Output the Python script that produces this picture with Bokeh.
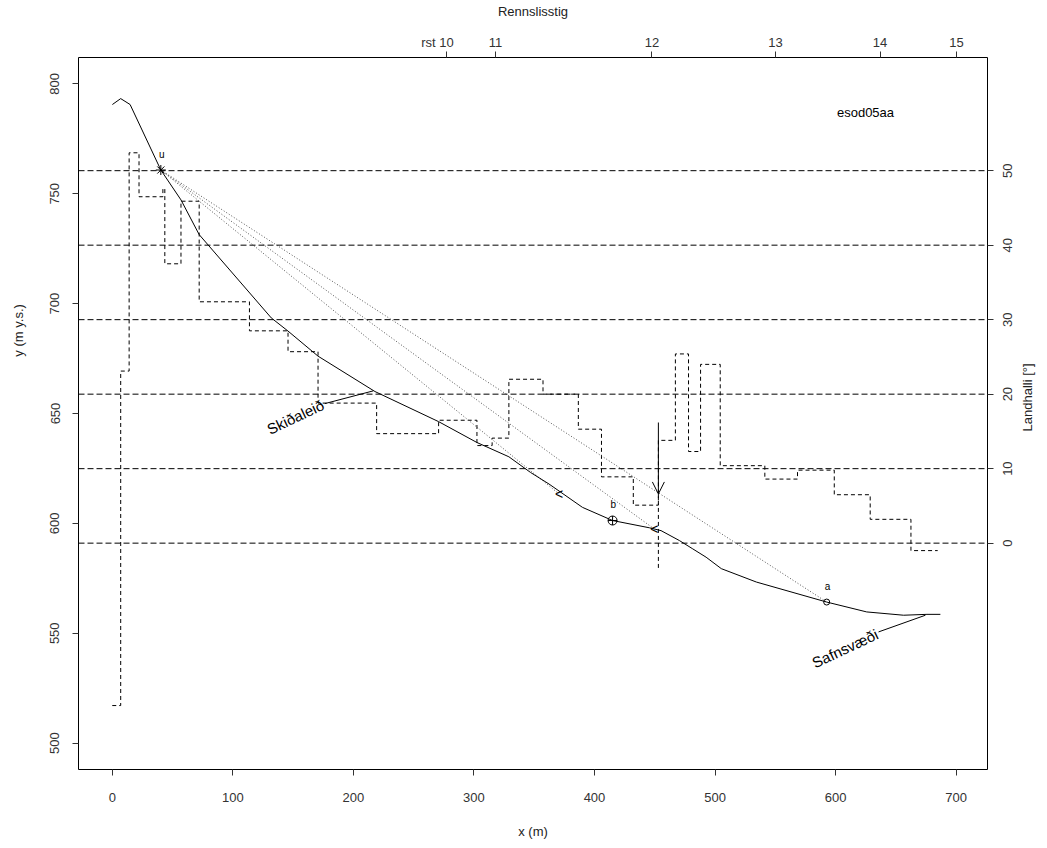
import math
from bokeh.plotting import figure
from bokeh.models import Range1d, LinearAxis, FixedTicker, Span, Arrow, OpenHead
from bokeh.embed import file_html
from bokeh.resources import INLINE
from bokeh.core.properties import value

FONT = "Liberation Sans"
NB = "\u00a0"

# ---- longitudinal profile (x in m, y in m y.s.) ----
prof_x = [0.1, 7.0, 14.8, 40.3, 57.0, 72.1, 131.9, 145.8, 170.7, 217.9, 270.7, 302.5,
          329.0, 346.9, 362.3, 390.0, 415.0, 445.5, 455.2, 470.4, 481.5, 492.6, 505.2,
          534.3, 592.6, 625.8, 656.4, 675.8, 686.9]
prof_y = [790.6, 793.3, 790.6, 760.8, 747.2, 731.4, 693.5, 687.5, 676.1, 660.0, 646.3, 636.8,
          630.3, 623.2, 617.9, 607.3, 601.3, 598.0, 596.7, 592.2, 588.4, 584.6, 579.4,
          573.3, 564.2, 559.7, 558.2, 558.6, 558.6]

# ---- slope (Landhalli, degrees) as steps ----
slope_x = [0, 7.0, 14.0, 22.2, 42.0, 43.6, 57.0, 72.1, 113.8, 145.8, 170.7, 219.3, 270.7,
           302.5, 315.1, 329.0, 357.3, 386.6, 405.8, 432.2, 453.0, 467.1, 478.0, 488.0,
           504.3, 541.3, 568.4, 598.9, 628.7, 662.5, 684.7]
slope_deg = [-21.8, 23.1, 52.4, 46.5, 47.6, 37.5, 45.9, 32.4, 28.5, 25.7, 18.8, 14.7, 16.5,
             13.1, 14.1, 22.0, 20.0, 15.3, 8.9, 5.1, 13.8, 25.4, 12.3, 24.0, 10.4, 8.6,
             9.8, 6.5, 3.2, -1.0]

deg_grid = [0, 10, 20, 30, 40, 50]
slope_title = "Landhalli [°]"
slope_title_from = 15.0   # slope level where the upward-reading right-hand title starts

# ---- Rennslisstig (top axis) ----
rst_x = [277.3, 317.8, 447.7, 550.1, 636.9, 700.2]
rst_labels = ["rst 10" + NB * 5, "11", "12", "13", "14", "15"]

# ---- marked points ----
pt_names = ["u", "b", "a"]
pt_x = [40.3, 415.0, 592.6]
pt_y = [760.8, 601.3, 564.2]
lab_x = [41.1, 415.5, 593.4]
lab_y = [765.4, 606.1, 568.7]

# run-out end points of the dotted lines from u
end_x = [592.6, 449.7, 370.6]
end_y = [564.2, 597.4, 613.4]
chev_x = [370.6, 449.7]
chev_y = [613.4, 597.4]

# arrow at rst 12
arrow_x = 453.0
arrow_top = 645.9
arrow_tip = 613.4
arrow_bottom = 579.4

# text annotations with leader lines
ann_text = ["Skiðaleið", "Safnsvæði"]
ann_x = [151.9, 607.8]
ann_y = [648.4, 543.1]
lead_x0 = [176.3, 635.6]
lead_y0 = [654.5, 550.6]
lead_x1 = [216.5, 674.5]
lead_y1 = [660.3, 558.2]

site_name = "esod05aa"
site_x = 624.8
site_y = 786.8

x_range = (-28, 726)
y_range = (488, 812)
deg_range = ((488 - 591) / 3.39, (812 - 591) / 3.39)

FRAME_H = 846 - 55 - 77
PX_PER_DEG = FRAME_H / (deg_range[1] - deg_range[0])
DIGIT_W = 7.23  # width of one digit at 13px

p = figure(width=1047, height=846, output_backend="svg", toolbar_location=None,
           x_range=Range1d(*x_range), y_range=Range1d(*y_range),
           min_border_left=78, min_border_right=60, min_border_top=55, min_border_bottom=77)
p.extra_y_ranges = {"deg": Range1d(*deg_range)}
p.grid.visible = False
p.outline_line_color = "black"
p.outline_line_width = 1
p.background_fill_color = "white"
p.border_fill_color = "white"

def style_axis(ax):
    ax.axis_line_color = None
    ax.major_tick_out = 6
    ax.major_tick_in = 0
    ax.minor_tick_line_color = None
    ax.major_tick_line_color = "#333333"
    ax.major_label_text_font = FONT
    ax.major_label_text_font_size = "13px"
    ax.major_label_text_color = "#333333"
    ax.axis_label_text_font = FONT
    ax.axis_label_text_font_size = "13px"
    ax.axis_label_text_font_style = "normal"
    ax.axis_label_text_color = "#222222"

# bottom
xa = p.xaxis[0]
style_axis(xa)
xa.ticker = FixedTicker(ticks=[0, 100, 200, 300, 400, 500, 600, 700])
xa.axis_label = "x (m)"
xa.major_label_standoff = 17
xa.axis_label_standoff = 19

# left
ya = p.yaxis[0]
style_axis(ya)
ya.ticker = FixedTicker(ticks=[500, 550, 600, 650, 700, 750, 800])
ya.major_label_orientation = "vertical"
ya.axis_label = NB * 46 + "y (m y.s.)"
ya.major_label_standoff = 13
ya.axis_label_standoff = 22

# right (slope): tick marks only
ra = LinearAxis(y_range_name="deg", ticker=FixedTicker(ticks=deg_grid),
                major_label_overrides={d: "" for d in deg_grid})
style_axis(ra)
ra.major_label_standoff = 0
p.add_layout(ra, "right")

# right tick labels, reading upwards (each starts half its length below its tick)
lab_pos = [d - DIGIT_W * len(str(d)) / 2 / PX_PER_DEG for d in deg_grid]
rl = LinearAxis(y_range_name="deg", ticker=FixedTicker(ticks=lab_pos),
                major_label_overrides={lp: str(d) for lp, d in zip(lab_pos, deg_grid)})
style_axis(rl)
rl.major_tick_line_color = None
rl.major_tick_out = 0
rl.major_label_orientation = math.pi / 2
rl.major_label_standoff = 14
p.add_layout(rl, "right")

# right-hand title, reading upwards
rt = LinearAxis(y_range_name="deg", ticker=FixedTicker(ticks=[slope_title_from]),
                major_label_overrides={slope_title_from: slope_title})
style_axis(rt)
rt.major_tick_line_color = None
rt.major_tick_out = 0
rt.major_label_orientation = math.pi / 2
rt.major_label_standoff = 8
rt.major_label_text_color = "#222222"
p.add_layout(rt, "right")

# top (Rennslisstig)
ta = LinearAxis(ticker=FixedTicker(ticks=rst_x),
                major_label_overrides={t: l for t, l in zip(rst_x, rst_labels)},
                axis_label="Rennslisstig")
style_axis(ta)
ta.major_label_standoff = 2
ta.axis_label_standoff = 13
p.add_layout(ta, "above")

# horizontal dashed lines at slope levels
for d in deg_grid:
    p.add_layout(Span(location=d, dimension="width", y_range_name="deg",
                      line_color="black", line_width=1, line_dash="6 3"))

# slope step line
p.step(slope_x + [slope_x[-1]], slope_deg + [slope_deg[-1]], mode="after",
       y_range_name="deg", line_color="black", line_width=1, line_dash="4 3")

# dotted lines from u
p.segment(x0=[pt_x[0]] * len(end_x), y0=[pt_y[0]] * len(end_y), x1=end_x, y1=end_y,
          line_color="#555555", line_width=1, line_dash="1 2")

# profile
p.line(prof_x, prof_y, line_color="black", line_width=1)

# arrow at rst 12
p.add_layout(Arrow(x_start=arrow_x, y_start=arrow_top, x_end=arrow_x, y_end=arrow_tip,
                   line_color="black", line_width=1,
                   end=OpenHead(size=12, line_color="black", line_width=1)))
p.segment(x0=[arrow_x], y0=[arrow_tip], x1=[arrow_x], y1=[arrow_bottom],
          line_color="black", line_width=1, line_dash="4 3")

# point markers
p.scatter([pt_x[0]], [pt_y[0]], marker="asterisk", size=10, line_color="black", line_width=1)
p.scatter([pt_x[1]], [pt_y[1]], marker="circle_cross", size=9, line_color="black",
          fill_color=None, line_width=1)
p.scatter([pt_x[2]], [pt_y[2]], marker="circle", size=6, line_color="black",
          fill_color=None, line_width=1)
p.text(x=lab_x, y=lab_y, text=pt_names, text_font=value(FONT), text_font_size="10px",
       text_align="center", text_baseline="bottom", text_color="black")
p.text(x=chev_x, y=chev_y, text=["<", "<"], text_font=value(FONT), text_font_size="14px",
       text_align="center", text_baseline="middle", text_color="black")

# annotations with leader lines
p.segment(x0=lead_x0, y0=lead_y0, x1=lead_x1, y1=lead_y1, line_color="black", line_width=1)
p.text(x=ann_x, y=ann_y, text=ann_text, angle=0.44, text_font=value(FONT),
       text_font_size="15px", text_align="center", text_baseline="middle", text_color="black")

p.text(x=[site_x], y=[site_y], text=[site_name], text_font=value(FONT), text_font_size="13px",
       text_align="center", text_baseline="middle", text_color="black")

open("out.html", "w").write(file_html(p, INLINE))
